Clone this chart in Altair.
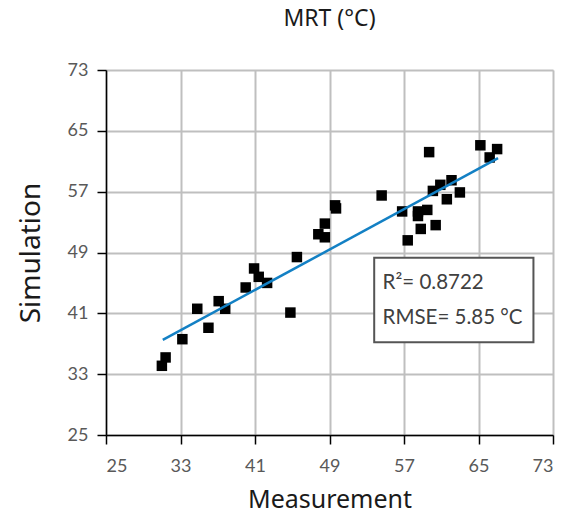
import altair as alt
import pandas as pd

measurement = [31.0, 31.4, 33.2, 34.8, 36.0, 37.1, 37.8, 40.0, 40.9, 41.4, 42.3,
               44.8, 45.5, 47.8, 48.5, 48.5, 49.6, 49.7, 54.6, 56.8, 57.4, 58.5,
               58.5, 58.8, 59.5, 59.7, 60.1, 60.4, 60.9, 61.6, 62.1, 63.0, 65.2,
               66.2, 67.0]
simulation = [34.1, 35.2, 37.6, 41.6, 39.1, 42.6, 41.6, 44.4, 46.9, 45.8, 45.0,
              41.1, 48.4, 51.4, 51.0, 52.8, 55.2, 54.8, 56.5, 54.4, 50.6, 54.4,
              53.8, 52.1, 54.6, 62.2, 57.1, 52.6, 57.9, 56.0, 58.5, 56.9, 63.1,
              61.5, 62.6]

# Trend line end points
line_x = [31.1, 67.1]
line_y = [37.5, 61.4]

ticks = [25, 33, 41, 49, 57, 65, 73]

# Annotation box (data coordinates) and its texts
box_x = [53.8, 70.9]
box_y = [48.3, 37.2]
ann_x = [54.7, 54.7]
ann_y = [45.0, 40.4]
ann_text = ["R²= 0.8722", "RMSE= 5.85 °C"]

pts = pd.DataFrame({"Measurement": measurement, "Simulation": simulation})
line_df = pd.DataFrame({"Measurement": line_x, "Simulation": line_y})
box_df = pd.DataFrame({"x": [box_x[0]], "x2": [box_x[1]], "y": [box_y[0]], "y2": [box_y[1]]})
ann_df = pd.DataFrame({"x": ann_x, "y": ann_y, "t": ann_text})

xs = alt.Scale(domain=[25, 73], nice=False, zero=False)
ys = alt.Scale(domain=[25, 73], nice=False, zero=False)

label_font = "Lato"
title_font = "Noto Sans"

xaxis = alt.Axis(values=ticks, title="Measurement", titleFont=title_font, titleFontSize=25,
                 titleFontWeight="normal", titleColor="#1a1a1a", titlePadding=12,
                 labelFont=label_font, labelFontSize=18, labelColor="#595959",
                 labelPadding=13, tickSize=9, tickColor="black", tickWidth=1.5,
                 domainColor="black", domainWidth=1.5, gridColor="#bfbfbf", gridWidth=2)
yaxis = alt.Axis(values=ticks, title="Simulation", titleFont=title_font, titleFontSize=28,
                 titleFontWeight="normal", titleColor="#1a1a1a", titlePadding=22,
                 labelFont=label_font, labelFontSize=18, labelColor="#595959",
                 labelPadding=9, tickSize=9, tickColor="black", tickWidth=1.5,
                 domainColor="black", domainWidth=1.5, gridColor="#bfbfbf", gridWidth=2)

points = alt.Chart(pts).mark_square(size=110, color="black", opacity=1).encode(
    x=alt.X("Measurement:Q", scale=xs, axis=xaxis),
    y=alt.Y("Simulation:Q", scale=ys, axis=yaxis),
)

trend = alt.Chart(line_df).mark_line(color="#1380c4", strokeWidth=2.5).encode(
    x=alt.X("Measurement:Q", scale=xs),
    y=alt.Y("Simulation:Q", scale=ys),
)

box = alt.Chart(box_df).mark_rect(fill="white", stroke="#555555", strokeWidth=2).encode(
    x=alt.X("x:Q", scale=xs), x2="x2:Q",
    y=alt.Y("y:Q", scale=ys), y2="y2:Q",
)

ann = alt.Chart(ann_df).mark_text(align="left", baseline="middle", font=label_font,
                                  fontSize=20.5, color="#404040").encode(
    x=alt.X("x:Q", scale=xs),
    y=alt.Y("y:Q", scale=ys),
    text="t:N",
)

chart = alt.layer(points, trend, box, ann).properties(
    width=447, height=365,
    title=alt.TitleParams("MRT (°C)", font=title_font, fontSize=23, fontWeight="normal",
                          color="#1a1a1a", anchor="middle", offset=30),
    autosize=alt.AutoSizeParams(type="none"),
    padding={"left": 106, "top": 70, "right": 15, "bottom": 81},
).configure_view(stroke="#bfbfbf", strokeWidth=2).configure(background="white")

chart.save("out.html", embed_options={"renderer": "svg", "actions": False})
